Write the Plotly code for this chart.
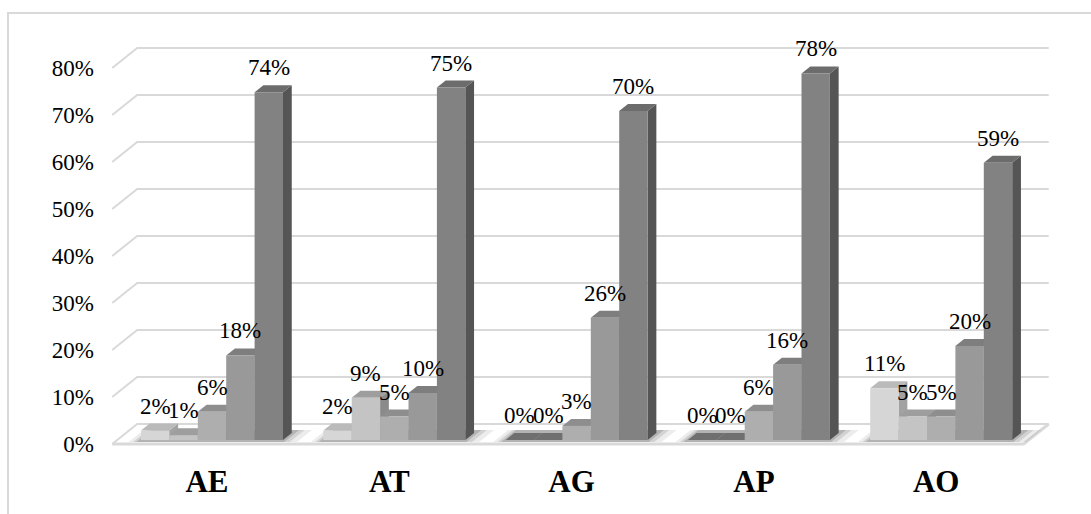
import plotly.graph_objects as go

# ---- data -------------------------------------------------------------
categories = ["AE", "AT", "AG", "AP", "AO"]
series_1 = [2, 2, 0, 0, 11]
series_2 = [1, 9, 0, 0, 5]
series_3 = [6, 5, 3, 6, 5]
series_4 = [18, 10, 26, 16, 20]
series_5 = [74, 75, 70, 78, 59]
y_ticks = [0, 10, 20, 30, 40, 50, 60, 70, 80]
y_tick_labels = [f"{t}%" for t in y_ticks]

all_series = [series_1, series_2, series_3, series_4, series_5]

# face colours per series: front, top, right side
FRONT = ["#d6d6d6", "#c4c4c4", "#aeaeae", "#999999", "#828282"]
TOP = ["#bababa", "#9e9e9e", "#8e8e8e", "#7e7e7e", "#6c6c6c"]
SIDE = ["#a2a2a2", "#8a8a8a", "#787878", "#646464", "#555555"]
GRID = "#d9d9d9"
FONT = "Times New Roman, Liberation Serif, serif"

# ---- oblique projection (data units) ----------------------------------
PX_CAT = 182.3          # pixels per category
PX_PCT = 4.7            # pixels per percentage point
DX = 25 / PX_CAT        # horizontal shift of the full depth, in categories
DY = 20 / PX_PCT        # vertical shift of the full depth, in percent
BW = 28.4 / PX_CAT      # bar width, in categories
D0, D1 = 0.2, 0.55      # bar depth span inside the floor
XL, XR = -0.52, 4.48    # floor extent


def proj(x, v, d):
    return x + d * DX, v + d * DY


fig = go.Figure()


def poly(points, color, line_color=None, width=0):
    xs = [p[0] for p in points] + [points[0][0]]
    ys = [p[1] for p in points] + [points[0][1]]
    fig.add_trace(go.Scatter(
        x=xs, y=ys, mode="lines", fill="toself", fillcolor=color,
        line=dict(color=line_color or color, width=width),
        hoverinfo="skip", showlegend=False))


# back wall gridlines with the left wall edge
gx, gy = [], []
for v in y_ticks:
    for x, vv, d in [(XL, v, 0), (XL, v, 1), (XR, v, 1)]:
        px, py = proj(x, vv, d)
        gx.append(px)
        gy.append(py)
    gx.append(None)
    gy.append(None)
fig.add_trace(go.Scatter(x=gx, y=gy, mode="lines",
                         line=dict(color=GRID, width=2),
                         hoverinfo="skip", showlegend=False))

# floor: front edge and right edge
fx = [proj(XL, 0, 0)[0], proj(XR, 0, 0)[0], proj(XR, 0, 1)[0]]
fy = [proj(XL, 0, 0)[1], proj(XR, 0, 0)[1], proj(XR, 0, 1)[1]]
fig.add_trace(go.Scatter(x=fx, y=fy, mode="lines",
                         line=dict(color=GRID, width=3),
                         hoverinfo="skip", showlegend=False))

n = len(all_series)

# soft floor shadows under each cluster
for c in range(len(categories)):
    g0 = c - n / 2 * BW
    g1 = g0 + n * BW
    for grow, alpha in [(0.09, 0.10), (0.05, 0.15), (0.02, 0.22)]:
        poly([proj(g0 - grow * 0.6, 0, D0 - 0.1), proj(g1 + grow, 0, D0 - 0.1),
              proj(g1 + grow, 0, D1 + 0.15), proj(g0 - grow * 0.6, 0, D1 + 0.15)],
             f"rgba(70,70,70,{alpha})")

# bars: right side, top, front, drawn left to right
annotations = []
for c in range(len(categories)):
    for i, s in enumerate(all_series):
        v = s[c]
        x0 = c - n / 2 * BW + i * BW
        x1 = x0 + BW
        if v > 0:
            poly([proj(x1, 0, D0), proj(x1, 0, D1), proj(x1, v, D1), proj(x1, v, D0)], SIDE[i])
            poly([proj(x0, v, D0), proj(x1, v, D0), proj(x1, v, D1), proj(x0, v, D1)], TOP[i])
            poly([proj(x0, 0, D0), proj(x1, 0, D0), proj(x1, v, D0), proj(x0, v, D0)], FRONT[i])
        else:
            # a zero-height bar shows only its dark footprint on the floor
            poly([proj(x0, 0, D0), proj(x1, 0, D0), proj(x1, 0, D1), proj(x0, 0, D1)], "#6f6f6f")
        lx, ly = proj((x0 + x1) / 2, v, D0)
        annotations.append(dict(
            x=lx, y=ly, text=f"{v}%", showarrow=False, xanchor="center",
            yanchor="bottom", yshift=10,
            font=dict(family=FONT, size=23, color="black")))

fig.update_layout(
    width=1091, height=514,
    margin=dict(l=95, r=0, t=0, b=54),
    paper_bgcolor="white", plot_bgcolor="white",
    showlegend=False,
    font=dict(family=FONT),
    annotations=annotations,
    xaxis=dict(
        range=[-112 / PX_CAT, 884 / PX_CAT],
        tickmode="array", tickvals=list(range(len(categories))), ticktext=categories,
        tickfont=dict(family=FONT, size=31, color="black", weight="bold"),
        showgrid=False, zeroline=False, showline=False, ticks="", fixedrange=True),
    yaxis=dict(
        range=[-16 / PX_PCT, 444 / PX_PCT],
        tickmode="array", tickvals=y_ticks, ticktext=y_tick_labels,
        tickfont=dict(family=FONT, size=23, color="black"),
        showgrid=False, zeroline=False, showline=False, ticks="", fixedrange=True),
    shapes=[dict(type="rect", xref="paper", yref="paper",
                 x0=-87 / 996, x1=1.05, y0=-0.3, y1=(460 - 13) / 460,
                 line=dict(color=GRID, width=2), layer="below")],
)

fig.write_html("out.html")
